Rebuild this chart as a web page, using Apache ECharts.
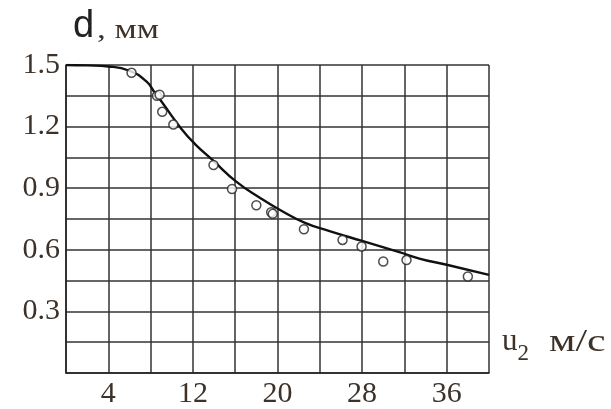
<!DOCTYPE html>
<html>
<head>
<meta charset="utf-8">
<script src="https://cdn.jsdelivr.net/npm/echarts@6/dist/echarts.min.js"></script>
<style>
  html, body { margin: 0; padding: 0; background: #fff; }
  #chart { width: 611px; height: 409px; }
</style>
</head>
<body>
<div id="chart"></div>
<script>
  // измеренные точки (кружки)
  var pointU = [6.2, 8.6, 8.85, 9.1, 10.15, 13.95, 15.7, 18.0, 19.4, 19.55, 22.5, 26.15, 27.95, 30.0, 32.2, 38.0];
  var pointD = [1.462, 1.35, 1.355, 1.272, 1.21, 1.013, 0.896, 0.817, 0.783, 0.775, 0.70, 0.648, 0.616, 0.543, 0.55, 0.47];

  // аппроксимирующая кривая
  var curveU = [0, 2, 4, 6, 7.6, 8.4, 9.2, 10.9, 12.2, 13.9, 16.1, 18.4, 20.2, 22.6, 25, 28, 31.6, 33.5, 36, 40];
  var curveD = [1.5, 1.498, 1.493, 1.472, 1.42, 1.365, 1.31, 1.19, 1.115, 1.035, 0.932, 0.851, 0.795, 0.731, 0.69, 0.643, 0.587, 0.556, 0.527, 0.478];

  // подписи осей
  var xLabels = [4, 12, 20, 28, 36];
  var yLabels = [0.3, 0.6, 0.9, 1.2, 1.5];

  var textColor = '#3d3229';
  var myChart = echarts.init(document.getElementById('chart'));

  var curveData = [];
  for (var i = 0; i < curveU.length; i++) {
    curveData.push([curveU[i], curveD[i]]);
  }
  var pointData = [];
  for (var j = 0; j < pointU.length; j++) {
    pointData.push([pointU[j], pointD[j]]);
  }

  var option = {
    animation: false,
    grid: { left: 66, right: 122, top: 65, bottom: 32 },
    xAxis: {
      type: 'value',
      min: 0,
      max: 40,
      interval: 4,
      axisLine: { show: true, lineStyle: { color: '#222', width: 1.5 } },
      axisTick: { show: false },
      splitLine: { show: true, lineStyle: { color: '#333', width: 1.5 } },
      axisLabel: {
        color: textColor,
        fontFamily: 'Liberation Serif',
        fontSize: 30,
        margin: 6,
        formatter: function (v) {
          return xLabels.indexOf(v) >= 0 ? String(v) : '';
        }
      }
    },
    yAxis: {
      type: 'value',
      min: 0,
      max: 1.5,
      interval: 0.15,
      axisLine: { show: true, lineStyle: { color: '#222', width: 1.5 } },
      axisTick: { show: false },
      splitLine: { show: true, lineStyle: { color: '#333', width: 1.5 } },
      axisLabel: {
        color: textColor,
        fontFamily: 'Liberation Serif',
        fontSize: 30,
        margin: 6,
        formatter: function (v) {
          for (var k = 0; k < yLabels.length; k++) {
            if (Math.abs(yLabels[k] - v) < 1e-6) return yLabels[k].toFixed(1);
          }
          return '';
        }
      }
    },
    graphic: [
      {
        type: 'text',
        left: 73,
        top: 8,
        style: { text: 'd', fontFamily: 'Liberation Sans', fontSize: 38, fill: '#222' }
      },
      {
        type: 'text',
        x: 97,
        y: 17,
        scaleX: 1.3,
        style: { text: ', мм', fontFamily: 'Liberation Serif', fontSize: 27, fill: textColor }
      },
      {
        type: 'text',
        left: 502,
        top: 326,
        style: {
          text: '{a|u}{s|2}',
          rich: {
            a: { fontFamily: 'Liberation Serif', fontSize: 31, fill: textColor },
            s: { fontFamily: 'Liberation Serif', fontSize: 23, fill: textColor, padding: [24, 0, 0, 0] }
          }
        }
      },
      {
        type: 'text',
        x: 549,
        y: 327,
        scaleX: 1.35,
        style: { text: 'м/с', fontFamily: 'Liberation Serif', fontSize: 31, fill: textColor }
      }
    ],
    series: [
      {
        name: 'кривая',
        type: 'line',
        data: curveData,
        smooth: true,
        showSymbol: false,
        lineStyle: { color: '#111', width: 2.4 },
        z: 3
      },
      {
        name: 'опыт',
        type: 'scatter',
        data: pointData,
        symbol: 'circle',
        symbolSize: 9,
        itemStyle: { color: '#fff', borderColor: '#222', borderWidth: 1.5 },
        z: 4
      }
    ]
  };
  myChart.setOption(option);
</script>
</body>
</html>
